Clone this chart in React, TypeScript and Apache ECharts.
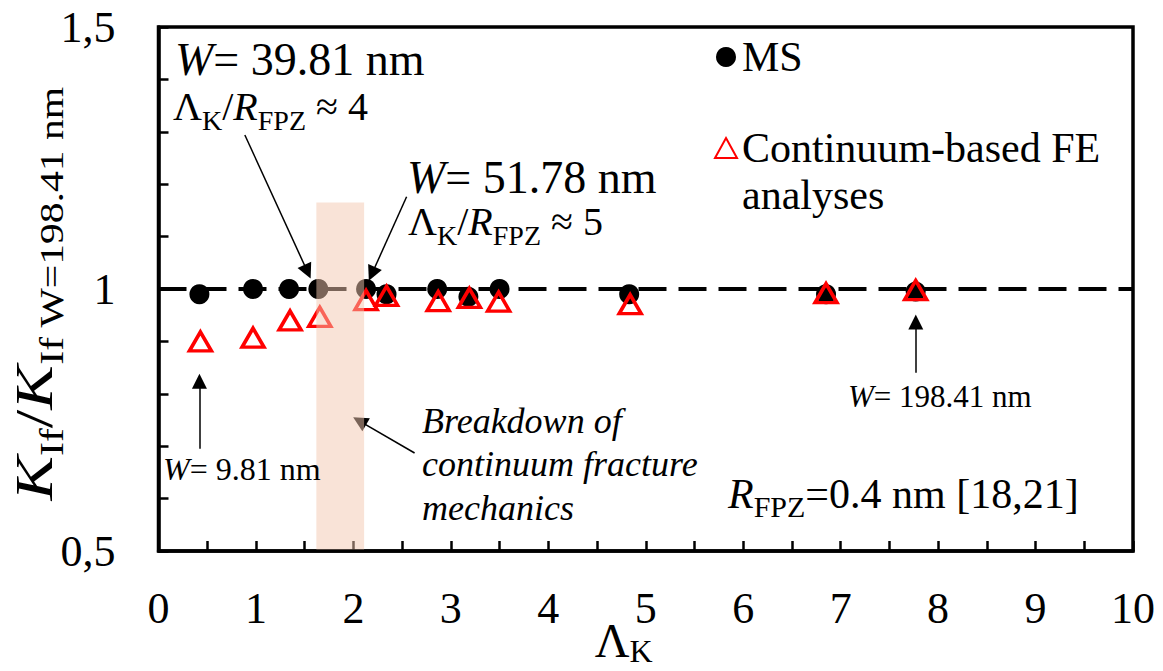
import React, { useEffect, useRef } from "react";
import * as echarts from "echarts";

const FONT = "'Liberation Serif', 'Times New Roman', Times, serif";

// MS (molecular statics) results
const msX = [0.42, 0.97, 1.34, 1.64, 2.13, 2.34, 2.86, 3.18, 3.5, 4.83, 6.85, 7.77];
const msY = [0.99, 1.0, 1.0, 1.0, 1.0, 0.99, 1.0, 0.985, 1.0, 0.99, 0.99, 0.995];

// Continuum-based FE analyses
const feX = [0.43, 0.97, 1.35, 1.655, 2.13, 2.34, 2.87, 3.19, 3.49, 4.84, 6.85, 7.77];
const feY = [0.9, 0.907, 0.94, 0.947, 0.979, 0.987, 0.977, 0.983, 0.976, 0.971, 0.992, 0.998];

// reference line K/K = 1
const refLineX = [0, 10];
const refLineY = [1, 1];

// tick labels
const xTickValues = [0, 1, 2, 3, 4, 5, 6, 7, 8, 9, 10];
const yTickValues = [0.5, 1, 1.5];
const yTickTexts = ["0,5", "1", "1,5"];

// breakdown band: [xFrom, xTo, yFrom, yTo]
const breakdownBand = [1.62, 2.11, 0.5, 1.165];

// annotation arrows (data coordinates): start -> head
const arrowStart = [
  [0.886, 1.294],
  [2.546, 1.176],
  [0.42, 0.695],
  [2.628, 0.687],
  [7.771, 0.84],
];
const arrowHead = [
  [1.529, 1.033],
  [2.19, 1.029],
  [0.42, 0.824],
  [2.064, 0.748],
  [7.771, 0.937],
];

const MS_NAME = "MS";
const FE_NAME = "Continuum-based FE analyses";

function richSet(F: number, s: number, L: number, L2: number) {
  return {
    m: { fontSize: F, lineHeight: L, fontFamily: FONT, fill: "#000" },
    i: { fontSize: F, lineHeight: L, fontFamily: FONT, fontStyle: "italic", fill: "#000" },
    s: { fontSize: s, lineHeight: L2, fontFamily: FONT, fill: "#000", verticalAlign: "bottom" },
  };
}

function ann(x: number, y: number, text: string, rich: any) {
  return {
    type: "text",
    x,
    y,
    z: 20,
    silent: true,
    style: { text, rich, align: "left", verticalAlign: "middle", fill: "#000", fontFamily: FONT },
  };
}

export default function App() {
  const ref = useRef<HTMLDivElement>(null);

  useEffect(() => {
    if (!ref.current) return;
    const chart = echarts.init(ref.current, undefined, { renderer: "svg" });

    const r46 = richSet(46, 30, 56, 30);
    const r40 = richSet(40, 28, 56, 28);
    const r32 = richSet(32, 22, 40, 22);
    const r31 = richSet(31, 22, 40, 22);
    const r42 = richSet(42, 30, 56, 30);

    const option: any = {
      animation: false,
      backgroundColor: "#fff",
      textStyle: { fontFamily: FONT, color: "#000" },
      grid: {
        left: 158.5,
        right: 30,
        top: 27,
        bottom: 120,
        outerBoundsMode: "none",
        containLabel: false,
        show: true,
        borderColor: "#000",
        borderWidth: 3.5,
        backgroundColor: "transparent",
      },
      legend: {
        orient: "vertical",
        left: 714,
        top: 33.5,
        padding: 0,
        itemGap: -3,
        itemWidth: 22,
        itemHeight: 20,
        selectedMode: false,
        textStyle: { fontSize: 42, lineHeight: 47, fontFamily: FONT, color: "#000" },
        formatter: (name: string) =>
          name === FE_NAME ? "\nContinuum-based FE\nanalyses" : name,
        data: [
          { name: MS_NAME, icon: "circle" },
          { name: FE_NAME, icon: "triangle" },
        ],
      },
      xAxis: {
        type: "value",
        min: 0,
        max: 10,
        interval: 0.5,
        splitLine: { show: false },
        axisLine: { lineStyle: { color: "#000", width: 3.5 } },
        axisTick: { inside: true, length: 10, lineStyle: { color: "#000", width: 2.5 } },
        axisLabel: {
          margin: 35,
          fontSize: 44,
          fontFamily: FONT,
          color: "#000",
          formatter: (v: number) => {
            const r = Math.round(v * 1000) / 1000;
            return xTickValues.indexOf(r) >= 0 ? String(r) : "";
          },
        },
        name: "{l|Λ}{k|K}",
        nameLocation: "middle",
        nameGap: 62,
        nameMoveOverlap: false,
        nameTextStyle: {
          padding: [0, 44, 0, 0],
          rich: {
            l: { fontSize: 48, lineHeight: 54, fontFamily: FONT, color: "#000" },
            k: { fontSize: 32, lineHeight: 28, fontFamily: FONT, color: "#000", verticalAlign: "bottom" },
          },
        },
      },
      yAxis: {
        type: "value",
        min: 0.5,
        max: 1.5,
        interval: 0.1,
        splitLine: { show: false },
        axisLine: { lineStyle: { color: "#000", width: 3.5 } },
        axisTick: { inside: true, length: 10, lineStyle: { color: "#000", width: 2.5 } },
        axisLabel: {
          margin: 43,
          fontSize: 44,
          fontFamily: FONT,
          color: "#000",
          formatter: (v: number) => {
            for (let k = 0; k < yTickValues.length; k++) {
              if (Math.abs(v - yTickValues[k]) < 1e-6) return yTickTexts[k];
            }
            return "";
          },
        },
      },
      graphic: [
        {
          type: "text",
          x: 33.8,
          y: 293.5,
          rotation: Math.PI / 2,
          scaleX: 1.26,
          z: 20,
          silent: true,
          style: {
            text: "{k|K}{s|If}{n|/}{k|K}{s|If W=198.41 nm}",
            align: "center",
            verticalAlign: "middle",
            fill: "#000",
            fontFamily: FONT,
            rich: {
              k: { fontSize: 53, lineHeight: 70, fontFamily: FONT, fontStyle: "italic", fill: "#000" },
              n: { fontSize: 53, lineHeight: 70, fontFamily: FONT, fill: "#000" },
              s: { fontSize: 33, lineHeight: 36, fontFamily: FONT, fill: "#000", verticalAlign: "bottom" },
            },
          },
        },
        ann(175, 59.5, "{i|W}{m|= 39.81 nm}", r46),
        ann(173, 106.5, "{m|Λ}{s|K}{m|/}{i|R}{s|FPZ}{m| ≈ 4}", r40),
        ann(407, 177.5, "{i|W}{m|= 51.78 nm}", r46),
        ann(408, 221.5, "{m|Λ}{s|K}{m|/}{i|R}{s|FPZ}{m| ≈ 5}", r40),
        ann(163, 469, "{i|W}{m|= 9.81 nm}", r32),
        ann(848, 396, "{i|W}{m|= 198.41 nm}", r31),
        ann(728, 493.8, "{i|R}{s|FPZ}{m|=0.4 nm [18,21]}", r42),
        {
          type: "text",
          x: 422,
          y: 399,
          z: 20,
          silent: true,
          style: {
            text: "Breakdown of\ncontinuum fracture\nmechanics",
            fontFamily: FONT,
            fontStyle: "italic",
            fontSize: 36,
            lineHeight: 43.5,
            fill: "#000",
            align: "left",
            verticalAlign: "top",
          },
        },
      ],
      series: [
        {
          name: "ref",
          type: "line",
          data: refLineX.map((x, i) => [x, refLineY[i]]),
          symbol: "none",
          silent: true,
          z: 1,
          lineStyle: { color: "#000", width: 4, type: [28, 12] },
        },
        {
          name: MS_NAME,
          type: "scatter",
          data: msX.map((x, i) => [x, msY[i]]),
          symbol: "circle",
          symbolSize: 20,
          z: 2,
          itemStyle: { color: "#000", opacity: 1 },
        },
        {
          name: FE_NAME,
          type: "scatter",
          data: feX.map((x, i) => [x, feY[i]]),
          symbol: "triangle",
          symbolSize: [22, 19],
          z: 3,
          itemStyle: { color: "rgba(255,255,255,0)", borderColor: "#ff0000", borderWidth: 3.5, opacity: 1 },
        },
        {
          name: "band",
          type: "custom",
          z: 5,
          silent: true,
          encode: { x: [0, 1], y: [2, 3] },
          data: [breakdownBand],
          renderItem: (params: any, api: any) => {
            const p0 = api.coord([api.value(0), api.value(3)]);
            const p1 = api.coord([api.value(1), api.value(2)]);
            return {
              type: "rect",
              shape: { x: p0[0], y: p0[1], width: p1[0] - p0[0], height: p1[1] - p0[1] - 1.5 },
              style: { fill: "rgba(244,200,176,0.5)" },
            };
          },
        },
        {
          name: "arrows",
          type: "scatter",
          data: [],
          z: 6,
          silent: true,
          markLine: {
            silent: true,
            symbol: ["none", "triangle"],
            symbolSize: 15,
            label: { show: false },
            itemStyle: { color: "#000" },
            lineStyle: { color: "#000", width: 1.5, type: "solid", opacity: 1 },
            emphasis: { disabled: true },
            data: arrowStart.map((s, i) => [{ coord: s }, { coord: arrowHead[i] }]),
          },
        },
      ],
    };

    chart.setOption(option);
    return () => chart.dispose();
  }, []);

  return (
    <div
      ref={ref}
      style={{ position: "fixed", left: 0, top: 0, width: 1163, height: 671 }}
    />
  );
}
